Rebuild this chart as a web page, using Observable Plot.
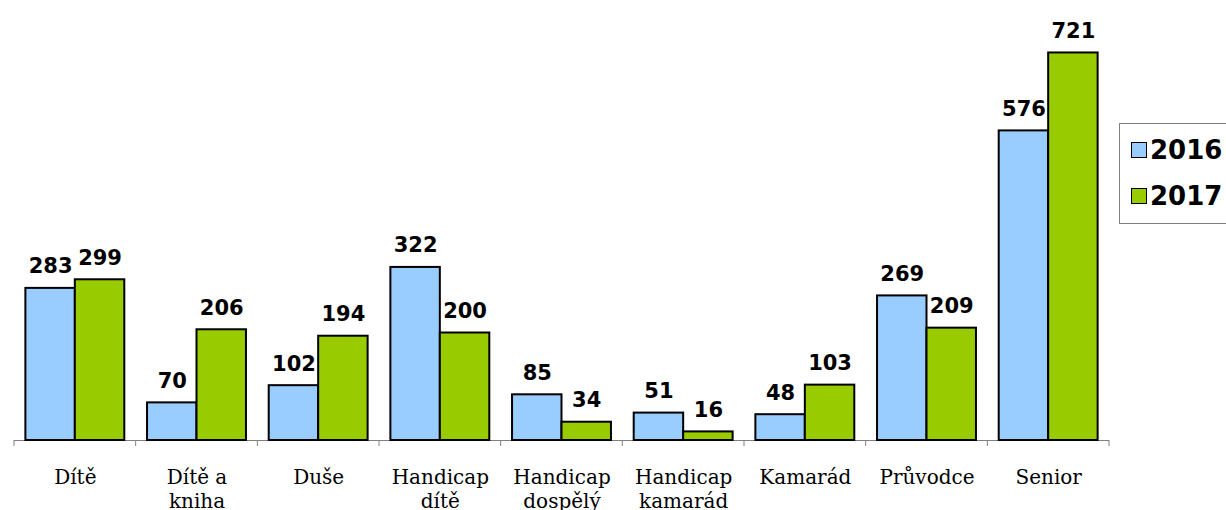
<!DOCTYPE html>
<html>
<head>
<meta charset="utf-8">
<script src="https://cdn.jsdelivr.net/npm/d3@7"></script>
<script src="https://cdn.jsdelivr.net/npm/@observablehq/plot@0.6"></script>
<style>
  html, body { margin: 0; padding: 0; background: #fff; overflow: hidden; }
  #wrap { position: relative; width: 1226px; height: 510px; }
  #legend { position: absolute; left: 1119px; top: 123px; width: 130px; height: 101px;
    border: 1px solid #808080; box-sizing: border-box; background: #fff;
    font-family: "DejaVu Sans", sans-serif; font-weight: bold; font-size: 26px; color: #000; }
  .item { position: absolute; left: 11px; display: flex; align-items: center; height: 30px; }
  .sw { width: 14px; height: 14px; border: 1.5px solid #000; margin-right: 3px; }
</style>
</head>
<body>
<div id="wrap"></div>
<script>
const categories = ["Dítě", "Dítě a kniha", "Duše", "Handicap dítě", "Handicap dospělý", "Handicap kamarád", "Kamarád", "Průvodce", "Senior"];
const tickLabels = ["Dítě", "Dítě a\nkniha", "Duše", "Handicap\ndítě", "Handicap\ndospělý", "Handicap\nkamarád", "Kamarád", "Průvodce", "Senior"];
const years = ["2016", "2017"];
const values2016 = [283, 70, 102, 322, 85, 51, 48, 269, 576];
const values2017 = [299, 206, 194, 200, 34, 16, 103, 209, 721];
const colors = ["#99CCFF", "#99CC00"];

const data = categories.flatMap((c, i) => [
  {category: c, year: years[0], value: values2016[i]},
  {category: c, year: years[1], value: values2017[i]}
]);

const plot = Plot.plot({
  width: 1226,
  height: 510,
  marginLeft: 14,
  marginRight: 117,
  marginTop: 10,
  marginBottom: 70,
  style: {fontFamily: "'DejaVu Serif', serif", fontSize: "20px", color: "#000", background: "#fff"},
  fx: {domain: categories, padding: 0, round: false, axis: null},
  x: {domain: years, paddingInner: 0, paddingOuter: 0.23, round: false, axis: null},
  y: {domain: [0, 800], axis: null},
  color: {domain: years, range: colors},
  marks: [
    Plot.ruleY([0], {stroke: "#808080", strokeWidth: 1}),
    Plot.barY(data, {fx: "category", x: "year", y: "value", fill: "year", stroke: "#000", strokeWidth: 2}),
    Plot.text(data, {fx: "category", x: "year", y: "value", text: d => String(d.value),
      dy: -15, lineAnchor: "bottom", fontWeight: "bold", fontSize: 21,
      fontFamily: "'DejaVu Sans', sans-serif", fill: "#000"}),
    Plot.axisFx({anchor: "bottom", label: null, tickSize: 0, tickPadding: 26, lineHeight: 1.2,
      fontSize: 20, fontFamily: "'DejaVu Serif', serif", fill: "#000",
      tickFormat: c => tickLabels[categories.indexOf(c)]})
  ]
});

// boundary tick marks on the category axis, placed through the library's scales
const fx = plot.scale("fx");
const y = plot.scale("y");
const y0 = y.apply(0);
const xs = categories.map(c => fx.apply(c));
xs.push(fx.apply(categories[categories.length - 1]) + fx.bandwidth);
d3.select(plot).append("g")
  .attr("stroke", "#808080")
  .selectAll("line").data(xs).join("line")
  .attr("x1", d => d).attr("x2", d => d)
  .attr("y1", y0).attr("y2", y0 + 6);

const wrap = document.getElementById("wrap");
wrap.appendChild(plot);

const legend = document.createElement("div");
legend.id = "legend";
years.forEach((yr, i) => {
  const item = document.createElement("div");
  item.className = "item";
  item.style.top = (11 + i * 46) + "px";
  const sw = document.createElement("div");
  sw.className = "sw";
  sw.style.background = colors[i];
  const t = document.createElement("span");
  t.textContent = yr;
  item.appendChild(sw);
  item.appendChild(t);
  legend.appendChild(item);
});
wrap.appendChild(legend);
</script>
</body>
</html>
